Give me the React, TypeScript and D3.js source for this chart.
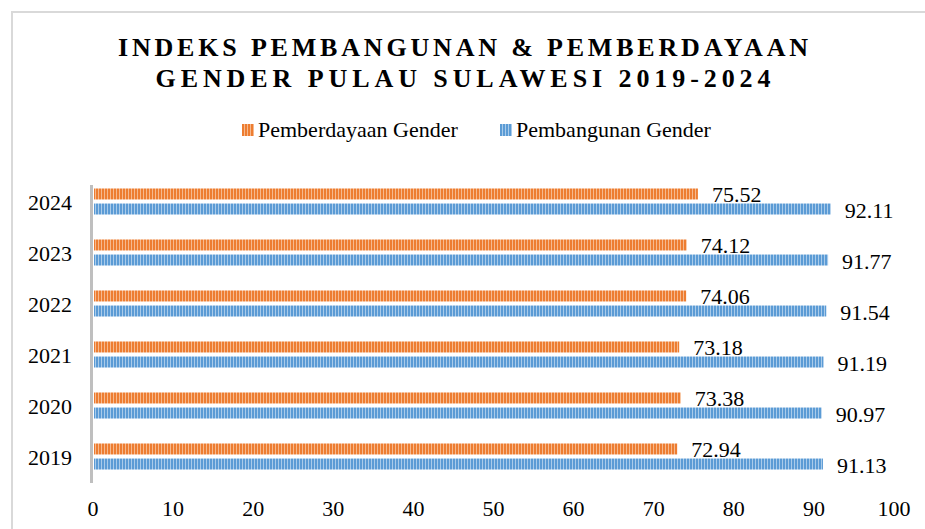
import * as d3 from "d3";
import { useEffect, useRef } from "react";

const years = ["2024", "2023", "2022", "2021", "2020", "2019"];
const seriesNames = ["Pemberdayaan Gender", "Pembangunan Gender"];
const pemberdayaan = [75.52, 74.12, 74.06, 73.18, 73.38, 72.94];
const pembangunan = [92.11, 91.77, 91.54, 91.19, 90.97, 91.13];
const xTicks = [0, 10, 20, 30, 40, 50, 60, 70, 80, 90, 100];
const titleLines = ["INDEKS PEMBANGUNAN & PEMBERDAYAAN", "GENDER PULAU SULAWESI 2019-2024"];

const W = 925;
const H = 529;
const FONT = "'Liberation Serif', 'Times New Roman', serif";
const COLORS = [
  { base: "#ED7D31", light: "#F6B98E" },
  { base: "#5B9BD5", light: "#A9CBEA" },
];

export default function App() {
  const svgRef = useRef<SVGSVGElement>(null);

  useEffect(() => {
    const svg = d3.select(svgRef.current);
    svg.selectAll("*").remove();

    // stripe patterns
    const defs = svg.append("defs");
    COLORS.forEach((c, i) => {
      const p = defs
        .append("pattern")
        .attr("id", `stripe-${i}`)
        .attr("patternUnits", "userSpaceOnUse")
        .attr("width", 3)
        .attr("height", 10);
      p.append("rect").attr("width", 3).attr("height", 10).attr("fill", c.base);
      p.append("rect").attr("x", 2).attr("width", 1).attr("height", 10).attr("fill", c.light);
    });

    // chart frame
    svg
      .append("rect")
      .attr("x", 12)
      .attr("y", 12)
      .attr("width", W + 20)
      .attr("height", H + 20)
      .attr("fill", "white")
      .attr("stroke", "#d9d9d9")
      .attr("stroke-width", 2);

    // title
    const title = svg
      .append("text")
      .attr("font-family", FONT)
      .attr("font-weight", "bold")
      .attr("font-size", 26)
      .attr("fill", "#000");
    const lineWidths = [690, 615];
    titleLines.forEach((t, i) => {
      title
        .append("tspan")
        .attr("x", 463 - lineWidths[i] / 2)
        .attr("y", 56 + i * 31)
        .attr("textLength", lineWidths[i])
        .attr("lengthAdjust", "spacing")
        .text(t);
    });

    // legend
    const legendX = [242, 500];
    seriesNames.forEach((name, i) => {
      const g = svg.append("g").attr("transform", `translate(${legendX[i]},124)`);
      g.append("rect").attr("width", 12).attr("height", 12).attr("fill", `url(#stripe-${i})`);
      g.append("text")
        .attr("x", 16)
        .attr("y", 13)
        .attr("font-family", FONT)
        .attr("font-size", 22)
        .attr("fill", "#000")
        .text(name);
    });

    // scales
    const x = d3.scaleLinear().domain([0, 100]).range([93, 894]);
    const y0 = d3
      .scaleBand()
      .domain(years)
      .range([176, 482])
      .paddingInner(0.49)
      .paddingOuter(0.245);
    const y1 = d3
      .scaleBand()
      .domain(seriesNames)
      .range([0, y0.bandwidth()])
      .paddingInner(0.27);

    // x tick labels
    svg
      .append("g")
      .selectAll("text")
      .data(xTicks)
      .join("text")
      .attr("x", (d) => x(d))
      .attr("y", 516)
      .attr("text-anchor", "middle")
      .attr("font-family", FONT)
      .attr("font-size", 22)
      .attr("fill", "#000")
      .text((d) => d);

    // y labels
    svg
      .append("g")
      .selectAll("text")
      .data(years)
      .join("text")
      .attr("x", 72)
      .attr("y", (d) => y0(d)! + y0.bandwidth() / 2 + 8)
      .attr("text-anchor", "end")
      .attr("font-family", FONT)
      .attr("font-size", 22)
      .attr("fill", "#000")
      .text((d) => d);

    // bars
    const series = [pemberdayaan, pembangunan];
    series.forEach((vals, si) => {
      const g = svg.append("g");
      g.selectAll("rect")
        .data(vals)
        .join("rect")
        .attr("x", x(0) + 1)
        .attr("y", (_, i) => y0(years[i])! + y1(seriesNames[si])!)
        .attr("width", (d) => x(d) - x(0) - 1)
        .attr("height", y1.bandwidth())
        .attr("fill", `url(#stripe-${si})`);
      g.selectAll("text")
        .data(vals)
        .join("text")
        .attr("x", (d) => x(d) + 14)
        .attr("y", (_, i) => y0(years[i])! + y1(seriesNames[si])! + y1.bandwidth() / 2 + 8.5)
        .attr("font-family", FONT)
        .attr("font-size", 22)
        .attr("fill", "#000")
        .text((d) => d.toFixed(2));
    });

    // vertical axis line
    svg
      .append("line")
      .attr("x1", 91.5)
      .attr("x2", 91.5)
      .attr("y1", 185)
      .attr("y2", 483)
      .attr("stroke", "#bfbfbf")
      .attr("stroke-width", 3);
  }, []);

  return (
    <svg
      ref={svgRef}
      width={W}
      height={H}
      style={{ position: "absolute", left: 0, top: 0, background: "white" }}
    />
  );
}
